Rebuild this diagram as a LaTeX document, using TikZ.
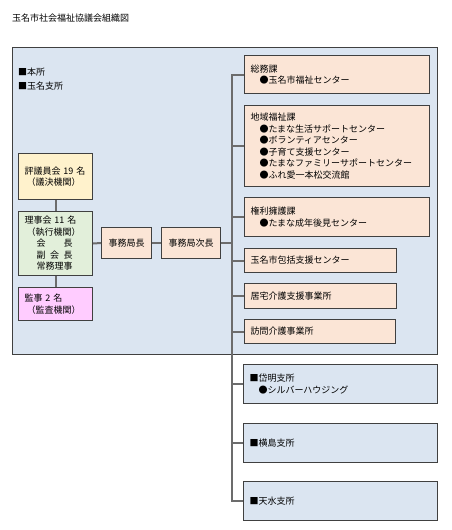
\documentclass[tikz,border=0pt]{standalone}
\usepackage{fontspec}
\setmainfont{Noto Sans CJK JP}
\usetikzlibrary{calc}
\definecolor{frame}{RGB}{64,64,64}
\definecolor{wire}{RGB}{108,108,108}
\definecolor{honbu}{RGB}{219,229,241}
\definecolor{giin}{RGB}{255,242,204}
\definecolor{riji}{RGB}{226,239,218}
\definecolor{kansa}{RGB}{255,204,255}
\definecolor{ka}{RGB}{251,229,214}
\newcommand\bul{\hspace*{9pt}●}
\tikzset{
  unit/.style={draw=frame, line width=1pt, anchor=north west, inner xsep=6pt,
    inner ysep=0pt, align=left, font=\fontsize{9}{11.5}\selectfont},
  boxsize/.code 2 args={\pgfmathsetmacro\tw{#1-12}%
    \edef\tmp{\noexpand\pgfkeysalso{minimum width=#1pt, minimum height=#2pt, text width=\tw pt}}\tmp},
  link/.style={draw=wire, line width=2pt},
}
\begin{document}
\begin{tikzpicture}[x=1pt,y=-1pt]
  \useasboundingbox (0,0) rectangle (452,530);
  \node[anchor=west, inner sep=0pt, font=\fontsize{9}{11}\selectfont] (title) at (12,18) {玉名市社会福祉協議会組織図};
  % head office frame
  \node[unit, fill=honbu, boxsize={425}{307}] (main) at (12,47) {};
  \node[anchor=west, inner sep=0pt, align=left, font=\fontsize{9}{14}\selectfont] (sites) at (18,79) {■本所\\■玉名支所};
  % board side
  \node[unit, fill=giin, boxsize={74}{46}] (giin) at (18,153) {評議員会 19 名\\\hspace*{2pt}（議決機関）};
  \node[unit, fill=riji, boxsize={74}{64}] (rijikai) at (18,211) {理事会 11 名\\\hspace*{2pt}（執行機関）\\\hspace*{12pt}会　　長\\\hspace*{12pt}副\hspace{0.5em}会\hspace{0.5em}長\\\hspace*{12pt}常務理事};
  \node[unit, fill=kansa, boxsize={74}{33}] (kanji) at (18,287) {監事 2 名\\\hspace*{2pt}（監査機関）};
  \node[unit, fill=ka, boxsize={50}{31}, align=center] (kyokuchou) at (101,227) {事務局長};
  \node[unit, fill=ka, boxsize={59}{31}, align=center] (jichou) at (161,227) {事務局次長};
  % sections
  \node[unit, fill=ka, boxsize={185}{38}] (soumu) at (244,55) {総務課\\\bul 玉名市福祉センター};
  \node[unit, fill=ka, boxsize={185}{81}] (chiiki) at (244,105) {地域福祉課\\\bul たまな生活サポートセンター\\\bul ボランティアセンター\\\bul 子育て支援センター\\\bul たまなファミリーサポートセンター\\\bul ふれ愛一本松交流館};
  \node[unit, fill=ka, boxsize={185}{39}] (kenri) at (244,197) {権利擁護課\\\bul たまな成年後見センター};
  \node[unit, fill=ka, boxsize={152}{24}] (houkatsu) at (244,248) {玉名市包括支援センター};
  \node[unit, fill=ka, boxsize={152}{25}] (kyotaku) at (244,283) {居宅介護支援事業所};
  \node[unit, fill=ka, boxsize={151}{24}] (houmon) at (244,319) {訪問介護事業所};
  % branch offices
  \node[unit, fill=honbu, boxsize={194}{39}] (taimei) at (243,364) {■岱明支所\\\bul シルバーハウジング};
  \node[unit, fill=honbu, boxsize={194}{39}] (yokoshima) at (243,423) {■横島支所};
  \node[unit, fill=honbu, boxsize={194}{39}] (tensui) at (243,481) {■天水支所};
  % connectors
  \coordinate (trunk) at (232,0);
  \draw[link] (giin.south) -- (rijikai.north);
  \draw[link] (rijikai.south) -- (kanji.north);
  \draw[link] (rijikai.east) -- (kyokuchou.west);
  \draw[link] (kyokuchou.east) -- (jichou.west);
  \draw[link] (jichou.east) -- (jichou.east -| trunk);
  \draw[link] (soumu.west) -| (tensui.west -| trunk) -- (tensui.west);
  \foreach \n in {chiiki,kenri,houkatsu,kyotaku,houmon,taimei,yokoshima}
    \draw[link] (\n.west -| trunk) -- (\n.west);
\end{tikzpicture}
\end{document}
